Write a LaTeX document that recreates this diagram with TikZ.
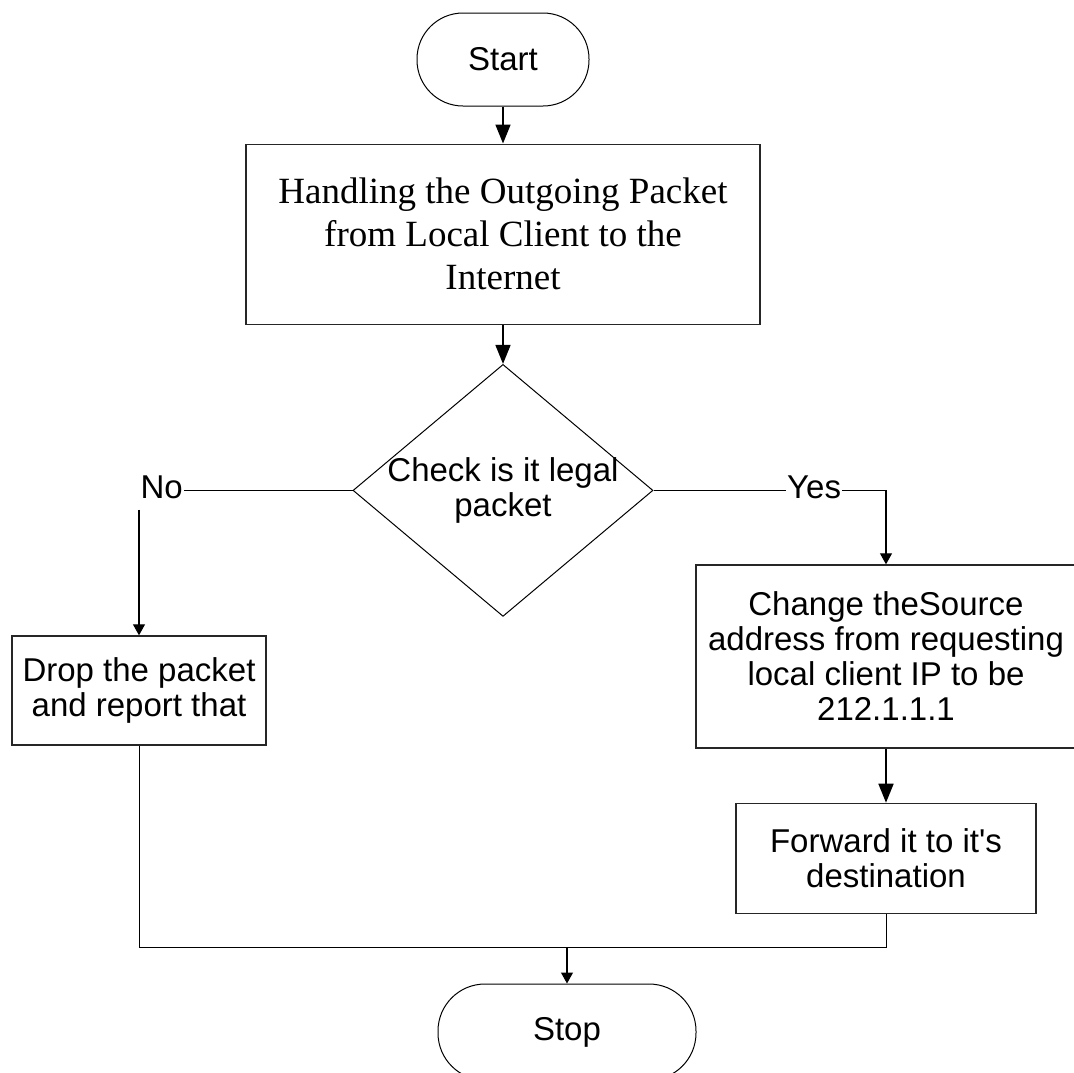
\documentclass[tikz,border=0pt]{standalone}
\usepackage{fontspec}
\setmainfont{Liberation Serif}
\setsansfont{Liberation Sans}
\usetikzlibrary{arrows.meta,positioning,shapes.geometric}

\begin{document}
\begin{tikzpicture}[x=1pt,y=-1pt,
  every node/.style={font=\sffamily\fontsize{33}{35}\selectfont},
  terminal/.style={draw,line width=1pt,rounded corners=46pt,minimum width=172pt,minimum height=93pt},
  process/.style={draw=black!85,line width=1.4pt,align=center,inner sep=0pt},
  decision/.style={diamond,draw,line width=1pt,minimum width=300pt,minimum height=252pt,inner sep=0pt},
  arr/.style={-{Triangle[length=11pt,width=12pt]},line width=1.1pt},
  arrbig/.style={-{Triangle[length=19pt,width=15pt]},line width=1.7pt}]
  \useasboundingbox (0,0) rectangle (1074,1072);
  \clip (0,0) rectangle (1074,1072);

  \node[terminal] (start) at (503,59.5) {Start};
  \node[process,minimum width=514pt,minimum height=180pt,font=\rmfamily\fontsize{37}{43}\selectfont,below=37pt of start] (handle) {Handling the Outgoing Packet\\from Local Client to the\\Internet};
  \node[decision,below=39pt of handle,label={[align=center]center:Check is it legal\\packet}] (check) {};
  \node[process,minimum width=254pt,minimum height=109pt] (drop) at (139,690.5) {Drop the packet\\and report that};
  \node[process,minimum width=380pt,minimum height=183pt] (change) at (886,656.5) {Change theSource\\address from requesting\\local client IP to be\\212.1.1.1};
  \node[process,minimum width=300pt,minimum height=110pt,below=54pt of change] (fwd) {Forward it to it\textquotesingle s\\destination};
  \node[terminal,rounded corners=47pt,minimum width=258pt,minimum height=96pt] (stop) at (567,1032) {Stop};

  \node[anchor=base east,inner sep=1pt] (no) at (184,498) {No};
  \node[anchor=base west,inner sep=1pt] (yes) at (786,498) {Yes};
  \coordinate (merge) at (567,947);

  \draw[arrbig] (start) -- (handle);
  \draw[arrbig] (handle) -- (check);
  \draw[line width=1pt] (check.west) -- (check.west -| no.east);
  \draw[arr] ([yshift=-10pt]no.south -| drop.north) -- (drop.north);
  \draw[line width=1pt] (check.east) -- (check.east -| yes.west);
  \draw[arr] (check.east -| yes.east) -| (change.north);
  \draw[arrbig] (change) -- (fwd);
  \draw[line width=1pt] (drop.south) |- (merge) -| (fwd.south);
  \draw[arr] (merge) -- (stop);
\end{tikzpicture}
\end{document}
